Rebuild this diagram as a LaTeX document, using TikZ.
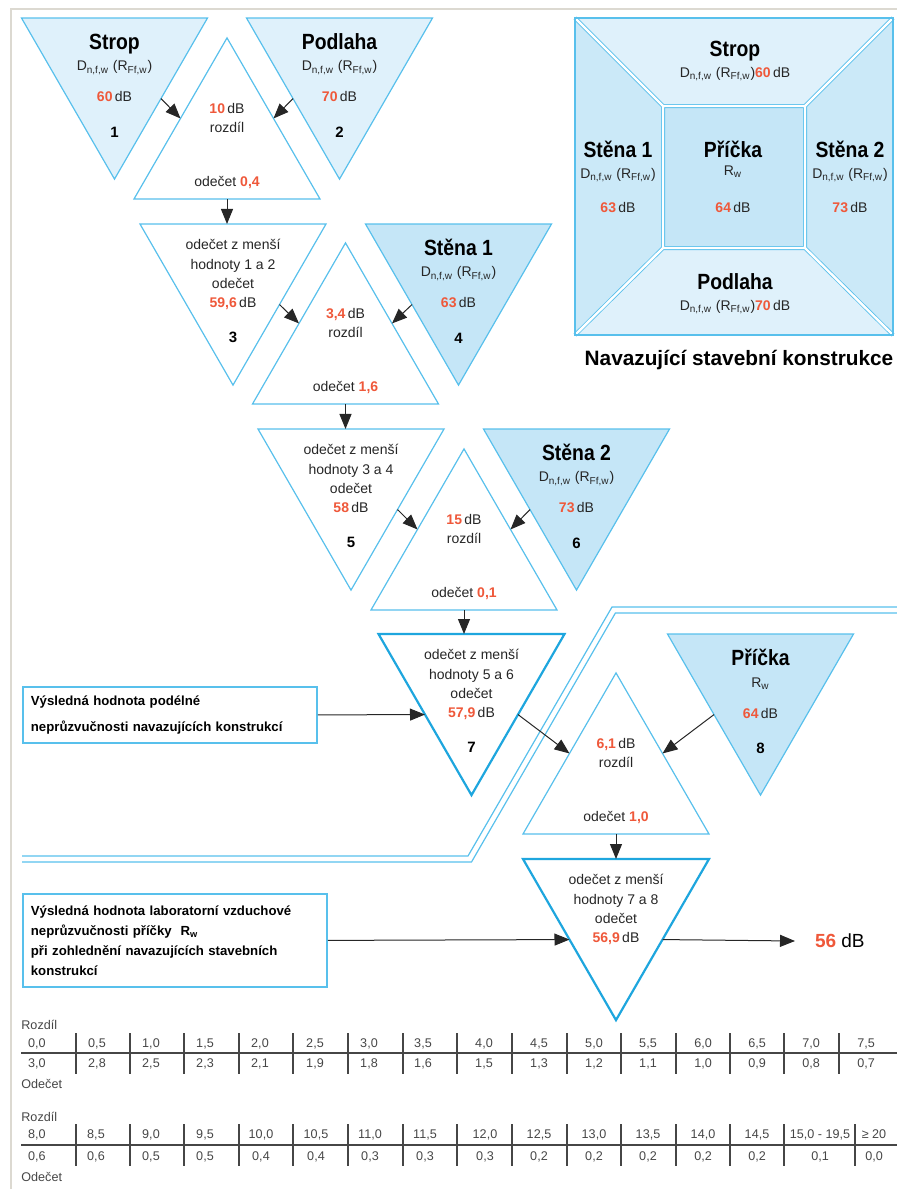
\documentclass[tikz,border=0pt]{standalone}
\usepackage{fontspec}
\setmainfont{Liberation Sans}
\newfontfamily\narrowfont[FakeStretch=0.88]{Liberation Sans}
\usetikzlibrary{shapes.geometric,arrows.meta,calc}

\definecolor{valred}{RGB}{239,88,58}
\definecolor{lineblue}{RGB}{88,192,236}
\definecolor{deepblue}{RGB}{30,166,222}
\definecolor{lightfill}{RGB}{223,241,251}
\definecolor{sidefill}{RGB}{203,233,248}
\definecolor{darkfill}{RGB}{197,230,247}
\definecolor{framegray}{RGB}{220,217,209}
\definecolor{tabgray}{RGB}{70,70,70}

\newcommand{\val}[1]{\textcolor{valred}{\bfseries #1}}
\newcommand{\Dnfw}{D\textsubscript{n,f,w} (R\textsubscript{Ff,w})}

% texty v trojuhelnicich
\newcommand{\zdroj}[5]{%
  \node[ttl] (#1-nazev) at ($(#1.north)+(0,24)$) {#2};
  \node[ln] (#1-d) at ($(#1.north)+(0,48)$) {#3};
  \node[ln] (#1-hodnota) at ($(#1.north)+(0,79)$) {\val{#4}\,dB};
  \node[nr] (#1-cislo) at ($(#1.north)+(0,114)$) {#5};}
\newcommand{\odecet}[5]{%
  \node[txt,anchor=north] (#1-text) at ($(#1.north)+(0,15)$) {odečet z menší\\hodnoty #2 a #3\\odečet\\\val{#4}\,dB};
  \node[nr] (#1-cislo) at ($(#1.north)+(0,113)$) {#5};}
\newcommand{\rozdil}[3]{%
  \node[txt,anchor=north] (#1-text) at ($(#1.south)+(0,-96)$) {\val{#2}\,dB\\rozdíl};
  \node[ln] (#1-odecet) at ($(#1.south)+(0,-18)$) {odečet \val{#3}};}

\begin{document}
\begin{tikzpicture}[x=0.5pt,y=-0.5pt,
	tri/.style={regular polygon,regular polygon sides=3,minimum size=107.4pt,inner sep=0pt,outer sep=0pt,draw=lineblue,line width=0.6pt,fill=white},
	dn/.style={tri,shape border rotate=180},
	src/.style={dn,fill=darkfill},
	res/.style={dn,draw=deepblue,line width=1.1pt},
	txt/.style={font=\fontsize{7}{9.7}\selectfont,inner sep=0pt,align=center,text=black!85},
	ln/.style={txt,text height=5pt,text depth=0pt},
	ttl/.style={font=\narrowfont\bfseries\fontsize{11}{13}\selectfont,inner sep=0pt,text height=7.9pt,text depth=0pt},
	nr/.style={font=\bfseries\fontsize{7.5}{9}\selectfont,inner sep=0pt,text height=5.4pt,text depth=0pt},
	arr/.style={-{Triangle[length=7.5pt,width=6pt]},line width=0.5pt,draw=black!85},
	box/.style={draw=lineblue,line width=0.9pt,anchor=north west,align=left,inner xsep=4pt,font=\bfseries\fontsize{6.6}{9.5}\selectfont},
	tab/.style={font=\fontsize{6.3}{7}\selectfont,text=tabgray,inner sep=0pt,text height=4.5pt,text depth=0pt},
	tabline/.style={draw=tabgray,line width=0.6pt},
	dbl/.style={draw=lineblue,line width=0.4pt,double=white,double distance=1.2pt}]

	\useasboundingbox (0,0) rectangle (897,1189);
	\draw[framegray,line width=1pt] (10.5,1189) -- (10.5,8.5) -- (897,8.5);

	% navazujici konstrukce
	\fill[lightfill] (575,18) -- (893,18) -- (805,106) -- (663,106) -- cycle;
	\fill[lightfill] (575,335) -- (893,335) -- (805,248) -- (663,248) -- cycle;
	\fill[sidefill] (575,18) -- (663,106) -- (663,248) -- (575,335) -- cycle;
	\fill[sidefill] (893,18) -- (805,106) -- (805,248) -- (893,335) -- cycle;
	\fill[darkfill] (663,106) rectangle (805,248);
	\draw[dbl] (575,18) -- (663,106) (893,18) -- (805,106) (575,335) -- (663,248) (893,335) -- (805,248) (663,106) rectangle (805,248);
	\draw[lineblue,line width=0.6pt] (575,18) rectangle (893,335);
	\node[ttl] (p-strop) at (735,49) {Strop};
	\node[ln] (p-strop-d) at (735,72) {\Dnfw\val{60}\,dB};
	\node[ttl] (p-st1) at (618,150) {Stěna 1};
	\node[ln] (p-st1-d) at (618,173) {\Dnfw};
	\node[ln] (p-st1-v) at (618,207) {\val{63}\,dB};
	\node[ttl] (p-pr) at (733,150) {Příčka};
	\node[ln] (p-pr-r) at (733,170) {R\textsubscript{w}};
	\node[ln] (p-pr-v) at (733,207) {\val{64}\,dB};
	\node[ttl] (p-st2) at (850,150) {Stěna 2};
	\node[ln] (p-st2-d) at (850,173) {\Dnfw};
	\node[ln] (p-st2-v) at (850,207) {\val{73}\,dB};
	\node[ttl] (p-podl) at (735,282) {Podlaha};
	\node[ln] (p-podl-d) at (735,305) {\Dnfw\val{70}\,dB};
	\node[font=\bfseries\fontsize{10.4}{12}\selectfont,inner sep=0pt] (p-nazev) at (739,360) {Navazující stavební konstrukce};

	% dvojita cara
	\draw[lineblue,line width=0.6pt] (897,607) -- (612,607) -- (468,856) -- (22,856);
	\draw[lineblue,line width=0.6pt] (897,613) -- (615.4,613) -- (471.5,862) -- (22,862);

	% trojuhelniky
	\node[dn,fill=lightfill] (t1) at (114.5,71.7) {};
	\node[dn,fill=lightfill] (t2) at (339.5,71.7) {};
	\node[tri] (ra) at (227,145.3) {};
	\node[dn] (t3) at (233,277.7) {};
	\node[tri] (rb) at (345.5,350.3) {};
	\node[src] (t4) at (458.5,277.7) {};
	\node[dn] (t5) at (351,482.7) {};
	\node[tri] (rc) at (464,556.3) {};
	\node[src] (t6) at (576.5,482.7) {};
	\node[res] (t7) at (471.5,687.7) {};
	\node[tri] (rd) at (616,780.3) {};
	\node[src] (t8) at (760.5,687.7) {};
	\node[res] (t9) at (616,912.7) {};

	\zdroj{t1}{Strop}{\Dnfw}{60}{1}
	\zdroj{t2}{Podlaha}{\Dnfw}{70}{2}
	\zdroj{t4}{Stěna 1}{\Dnfw}{63}{4}
	\zdroj{t6}{Stěna 2}{\Dnfw}{73}{6}
	\zdroj{t8}{Příčka}{R\textsubscript{w}}{64}{8}
	\rozdil{ra}{10}{0,4}
	\rozdil{rb}{3,4}{1,6}
	\rozdil{rc}{15}{0,1}
	\rozdil{rd}{6,1}{1,0}
	\odecet{t3}{1}{2}{59,6}{3}
	\odecet{t5}{3}{4}{58}{5}
	\odecet{t7}{5}{6}{57,9}{7}
	\odecet{t9}{7}{8}{56,9}{}

	\foreach \a/\b/\r/\n in {t1/t2/ra/t3,t3/t4/rb/t5,t5/t6/rc/t7,t7/t8/rd/t9}{
		\draw[arr] (\a.330) -- (\r.150);
		\draw[arr] (\b.210) -- (\r.30);
		\draw[arr] (\r.south) -- (\r.south |- \n.north);
	}

	\node[box,minimum width=147pt,minimum height=28pt,text width=139pt,font=\bfseries\fontsize{6.6}{13}\selectfont] (b1) at (22,686) {Výsledná hodnota podélné\\neprůzvučnosti navazujících konstrukcí};
	\node[box,minimum width=152pt,minimum height=46.5pt,text width=144pt,font=\bfseries\fontsize{6.6}{10}\selectfont] (b2) at (22,893) {Výsledná hodnota laboratorní vzduchové\\neprůzvučnosti příčky\ \ R\textsubscript{w}\\při zohlednění navazujících stavebních\\konstrukcí};
	\node[font=\fontsize{9.5}{11}\selectfont,anchor=west,inner xsep=10pt,inner ysep=0pt,outer sep=0pt] (vysl) at (795,941) {\val{56} dB};
	\draw[arr] (b1.east) -- (t7.210);
	\draw[arr] (b2.east) -- (t9.210);
	\draw[arr] (t9.330) -- (vysl.west);

	% tabulky
	\node[tab,anchor=west] (r1) at (21,1025) {Rozdíl};
	\node[tab,anchor=west] (o1) at (21,1084) {Odečet};
	\draw[tabline] (21,1053) -- (897,1053);
	\foreach \x in {76,130,184,239,293,348,403,457,512,567,621,676,730,784,839}
		\draw[tabline] (\x,1033) -- (\x,1074);
	\foreach \x/\a/\b in {37/0{,}0/3{,}0,97/0{,}5/2{,}8,151/1{,}0/2{,}5,205/1{,}5/2{,}3,260/2{,}0/2{,}1,315/2{,}5/1{,}9,369/3{,}0/1{,}8,423/3{,}5/1{,}6,484/4{,}0/1{,}5,539/4{,}5/1{,}3,594/5{,}0/1{,}2,648/5{,}5/1{,}1,703/6{,}0/1{,}0,757/6{,}5/0{,}9,811/7{,}0/0{,}8,866/7{,}5/0{,}7}{
		\node[tab] (ra\x) at (\x,1043) {\a};
		\node[tab] (rb\x) at (\x,1063) {\b};
	}
	\node[tab,anchor=west] (r2) at (21,1117) {Rozdíl};
	\node[tab,anchor=west] (o2) at (21,1177) {Odečet};
	\draw[tabline] (21,1145) -- (897,1145);
	\foreach \x in {76,130,184,239,293,348,403,457,512,567,621,676,730,784,855}
		\draw[tabline] (\x,1124) -- (\x,1166);
	\foreach \x/\a/\b in {37/8{,}0/0{,}6,96/8{,}5/0{,}6,151/9{,}0/0{,}5,205/9{,}5/0{,}5,261/10{,}0/0{,}4,316/10{,}5/0{,}4,370/11{,}0/0{,}3,425/11{,}5/0{,}3,485/12{,}0/0{,}3,539/12{,}5/0{,}2,594/13{,}0/0{,}2,648/13{,}5/0{,}2,703/14{,}0/0{,}2,757/14{,}5/0{,}2,820/15{,}0 - 19{,}5/0{,}1,874/≥ 20/0{,}0}{
		\node[tab] (sa\x) at (\x,1134) {\a};
		\node[tab] (sb\x) at (\x,1156) {\b};
	}
\end{tikzpicture}
\end{document}
